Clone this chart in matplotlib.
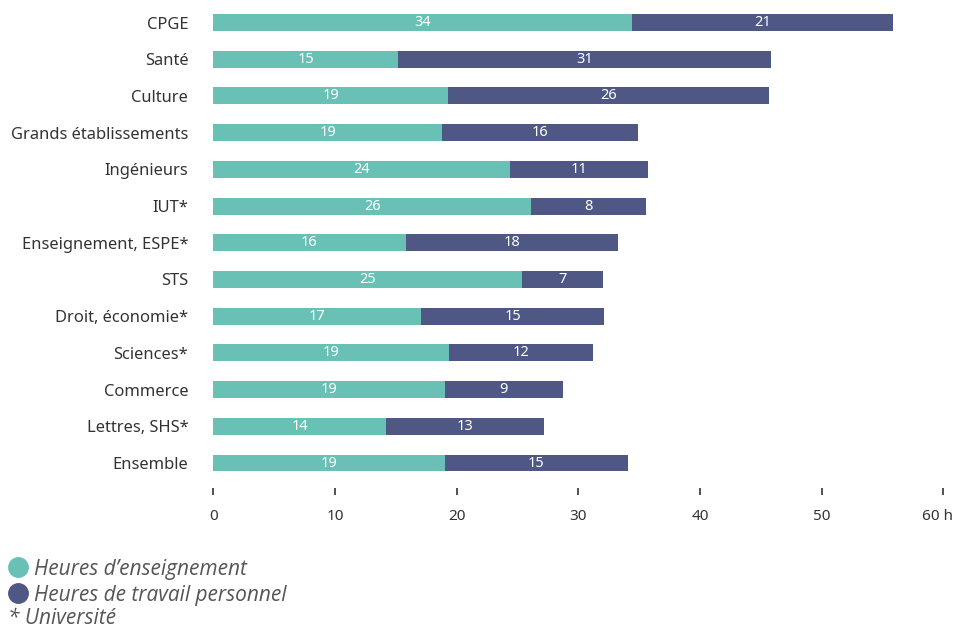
import matplotlib
matplotlib.use("Agg")
import matplotlib.pyplot as plt
import matplotlib.transforms as mtransforms
from matplotlib.lines import Line2D

# categories from top to bottom
categories = ['CPGE', 'Santé', 'Culture', 'Grands établissements', 'Ingénieurs', 'IUT*',
              'Enseignement, ESPE*', 'STS', 'Droit, économie*', 'Sciences*', 'Commerce',
              'Lettres, SHS*', 'Ensemble']
# bar lengths (hours per week)
enseignement = [34.4, 15.2, 19.3, 18.8, 24.4, 26.1, 15.8, 25.4, 17.1, 19.4, 19.0, 14.2, 19.0]
travail = [21.5, 30.6, 26.4, 16.1, 11.3, 9.5, 17.5, 6.6, 15.0, 11.8, 9.7, 13.0, 15.1]
# printed labels
lab_ens = [34, 15, 19, 19, 24, 26, 16, 25, 17, 19, 19, 14, 19]
lab_trav = [21, 31, 26, 16, 11, 8, 18, 7, 15, 12, 9, 13, 15]
xticks = [0, 10, 20, 30, 40, 50, 60]
xticklabels = ['0', '10', '20', '30', '40', '50', '60 h']

TEAL = '#69C1B6'
PURPLE = '#4F5784'
GREY = '#333333'

plt.rcParams['font.family'] = ['Noto Sans', 'DejaVu Sans']

fig = plt.figure(figsize=(9.55, 6.28), dpi=100)
ax = fig.add_axes([0.2234, 0.2229, 0.7644, 0.7705])

n = len(categories)
ypos = [n - 1 - i for i in range(n)]
h = 0.46
ax.barh(ypos, enseignement, height=h, color=TEAL)
ax.barh(ypos, travail, left=enseignement, height=h, color=PURPLE)

for y, e, t, le, lt in zip(ypos, enseignement, travail, lab_ens, lab_trav):
    ax.text(e / 2, y, str(le), ha='center', va='center', color='white',
            fontsize=10.5, fontstretch='condensed')
    ax.text(e + t / 2, y, str(lt), ha='center', va='center', color='white',
            fontsize=10.5, fontstretch='condensed')

ax.set_xlim(0, 60)
ax.set_ylim(-0.68, n - 0.5)
ax.set_yticks(ypos)
ax.set_yticklabels(categories, fontsize=11.9, color=GREY)
ax.tick_params(axis='y', length=0, pad=18)
ax.set_xticks(xticks)
ax.set_xticklabels(xticklabels, fontsize=11, color=GREY)
ax.tick_params(axis='x', direction='out', length=5, width=1.2, color=GREY, pad=10)
last = ax.get_xticklabels()[-1]
last.set_transform(last.get_transform() +
                   mtransforms.ScaledTranslation(-6 / 100, 0, fig.dpi_scale_trans))
for s in ax.spines.values():
    s.set_visible(False)

# legend at the bottom left
legend_items = [('Heures d\u2019enseignement', TEAL), ('Heures de travail personnel', PURPLE)]
for k, (txt, col) in enumerate(legend_items):
    yy = 1 - (567 + 26 * k) / 628
    fig.add_artist(Line2D([18 / 955], [yy], marker='o', markersize=14, color=col,
                          linestyle='none', transform=fig.transFigure))
    fig.text(34 / 955, yy - 2 / 628, txt, ha='left', va='center', fontsize=15,
             style='italic', color='#555555', family=['Open Sans', 'DejaVu Sans'])
fig.text(8 / 955, 1 - 618 / 628, '* Université', ha='left', va='center', fontsize=15,
         style='italic', color='#555555', family=['Open Sans', 'DejaVu Sans'])

fig.savefig('out.png', dpi=100)
